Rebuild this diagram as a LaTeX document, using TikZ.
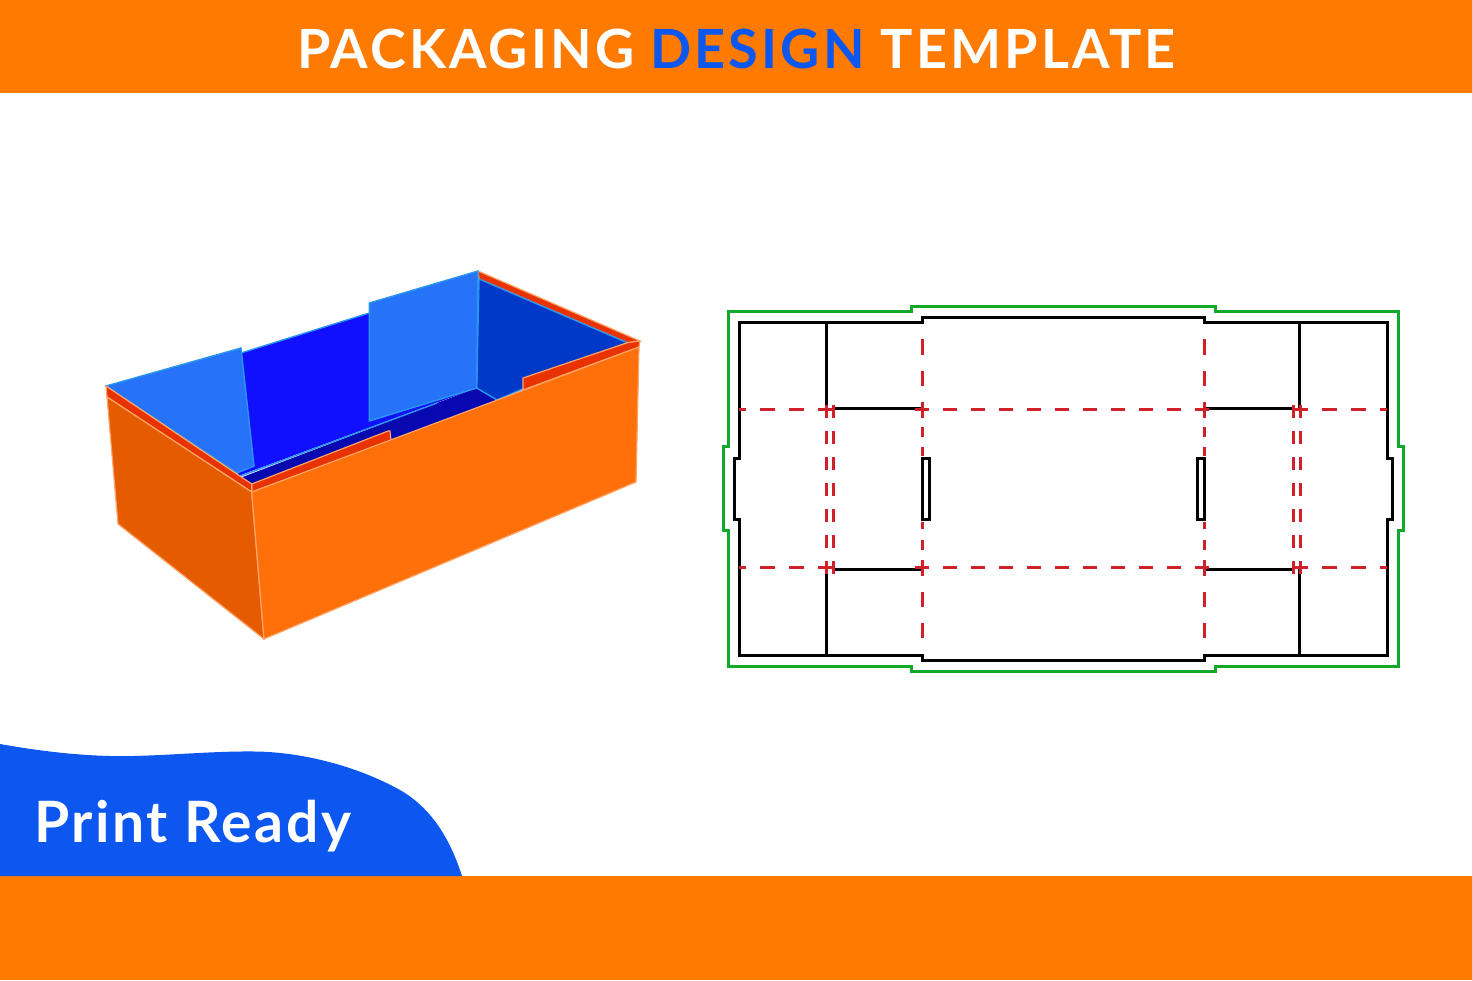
\documentclass[tikz,border=0pt]{standalone}
\usepackage{fontspec}
\setmainfont{Lato}
\newfontfamily\titlefont[LetterSpace = 5.8]{Lato}
\newfontfamily\readyfont[LetterSpace = 4.5]{Lato}
\definecolor{bandorange}{HTML}{FF7A00}
\definecolor{printblue}{HTML}{0B57F0}
\definecolor{frontface}{HTML}{FF6F0A}
\definecolor{sideface}{HTML}{E55C00}
\definecolor{rimred}{HTML}{E83200}
\definecolor{edgeorange}{HTML}{FFA468}
\definecolor{flapblue}{HTML}{2673FA}
\definecolor{flapedge}{HTML}{2A96F2}
\definecolor{wallblue}{HTML}{1010FF}
\definecolor{sidewall}{HTML}{0038C8}
\definecolor{floorblue}{HTML}{0808B0}
\definecolor{cutgreen}{HTML}{12A82A}
\definecolor{foldred}{HTML}{D0202A}
\begin{document}
\begin{tikzpicture}[x = 1pt, y = -1pt, line join = miter,
        outerface/.style = {draw = edgeorange, line width = 1.2pt},
        innerface/.style = {draw = flapedge, line width = 1.4pt},
        cutline/.style = {draw = black, line width = 3pt},
        bleedline/.style = {draw = cutgreen, line width = 3pt},
        foldline/.style = {draw = foldred, line width = 3pt, dash pattern = on 15pt off 14pt},
        foldshort/.style = {draw = foldred, line width = 3pt, dash pattern = on 13pt off 13pt}]
    \useasboundingbox (0, 0) rectangle (1472, 980);
    \fill[bandorange] (0, 0) rectangle (1472, 93);
    \fill[bandorange] (0, 876) rectangle (1472, 980);
    \fill[printblue] (0, 744) .. controls (45, 752) and (90, 757) .. (133, 756)
        .. controls (175, 755) and (215, 751) .. (255, 751.5)
        .. controls (300, 752) and (355, 765) .. (400, 790)
        .. controls (435, 810) and (452, 845) .. (462, 876) -- (0, 876) -- cycle;
    \node[font = {\fontsize{54}{54}\titlefont\bfseries}, text = white] (title) at (736.5, 49)
        {PACKAGING \textcolor{printblue}{DESIGN} TEMPLATE};
    \node[font = {\fontsize{57}{57}\readyfont\bfseries}, text = white, anchor = base west, inner sep = 0pt] (ready) at (34, 842) {Print Ready};

    \fill[wallblue] (241.7, 353) -- (369.3, 313) -- (369.3, 421) -- (476.7, 388) -- (238, 476) -- cycle;
    \fill[floorblue] (240, 478) -- (437, 403) -- (476.7, 388) -- (497, 400) -- (390, 441) -- (251.7, 484) -- cycle;
    \draw[innerface] (238, 477) -- (437, 403);
    \filldraw[fill = rimred, outerface] (478, 271) -- (640, 341) -- (628, 343) -- (479, 279) -- cycle;
    \filldraw[fill = sidewall, innerface] (479, 279) -- (628, 343) -- (497, 400) -- (476.7, 388) -- cycle;
    \filldraw[fill = flapblue, innerface] (106, 386) -- (241, 348) -- (254, 466) -- (237, 473) -- cycle;
    \filldraw[fill = flapblue, innerface] (369.3, 303) -- (478, 271) -- (476.7, 388) -- (369.3, 421) -- cycle;
    \draw[innerface] (241, 353) -- (369.3, 313);

    \filldraw[fill = rimred, outerface] (523, 378) -- (628, 342.5) -- (640, 341) -- (639, 347) -- (523, 390) -- cycle;
    \filldraw[fill = rimred, outerface] (251.7, 484) -- (388, 431) -- (390, 431) -- (391, 441) -- (251.7, 492) -- cycle;
    \filldraw[fill = rimred, outerface] (106, 386) -- (251.7, 484) -- (251.7, 492) -- (107, 397) -- cycle;
    \filldraw[fill = sideface, outerface] (107, 397) -- (251.7, 492) -- (264, 639) -- (118, 524) -- cycle;
    \filldraw[fill = frontface, outerface] (251.7, 492) -- (639, 347) -- (636, 482) -- (264, 639) -- cycle;

    \draw[bleedline] (911, 306) -- (1215, 306) -- (1215, 311) -- (1398, 311) -- (1398, 446) -- (1403, 446)
        -- (1403, 530) -- (1398, 530) -- (1398, 666) -- (1215, 666) -- (1215, 671) -- (911, 671) -- (911, 666)
        -- (728, 666) -- (728, 530) -- (723, 530) -- (723, 446) -- (728, 446) -- (728, 311) -- (911, 311) -- cycle;
    \draw[cutline] (922, 317) -- (1204, 317) -- (1204, 322) -- (1387, 322) -- (1387, 458) -- (1392, 458)
        -- (1392, 519) -- (1387, 519) -- (1387, 655) -- (1204, 655) -- (1204, 660) -- (922, 660) -- (922, 655)
        -- (739, 655) -- (739, 519) -- (734, 519) -- (734, 458) -- (739, 458) -- (739, 322) -- (922, 322) -- cycle;
    \draw[cutline] (826.5, 322) -- (826.5, 409);
    \draw[cutline] (826.5, 567) -- (826.5, 655);
    \draw[cutline] (1299.7, 322) -- (1299.7, 409);
    \draw[cutline] (1299.7, 567) -- (1299.7, 655);
    \draw[cutline] (833, 408) -- (922, 408);
    \draw[cutline] (1204, 408) -- (1293, 408);
    \draw[cutline] (833, 569) -- (922, 569);
    \draw[cutline] (1204, 569) -- (1293, 569);
    \draw[cutline] (922, 458) rectangle (929, 519);
    \draw[cutline] (1197, 458) rectangle (1204, 519);

    \foreach \foldy in {409.5, 567.5} {
        \draw[foldline, dash pattern = on 14pt off 14pt] (915, \foldy) -- (1211, \foldy);
        \draw[foldline, dash phase = 8pt] (739, \foldy) -- (833, \foldy);
        \draw[foldline, dash phase = 8pt] (1387, \foldy) -- (1293, \foldy);
    }
    \foreach \foldx in {922, 1204} {
        \draw[foldline, dash pattern = on 15.6pt off 16pt] (\foldx, 339) -- (\foldx, 418);
        \draw[foldline, dash pattern = on 15.6pt off 16pt] (\foldx, 560) -- (\foldx, 638);
        \foreach \foldfrom/\foldto in {427/437, 447/456, 522/529, 540/550}
            \draw[foldline, dash pattern = on 20pt off 0pt] (\foldx, \foldfrom) -- (\foldx, \foldto);
    }
    \foreach \foldx in {826.5, 833.5, 1293, 1300}
        \draw[foldshort] (\foldx, 405) -- (\foldx, 574);
\end{tikzpicture}
\end{document}
